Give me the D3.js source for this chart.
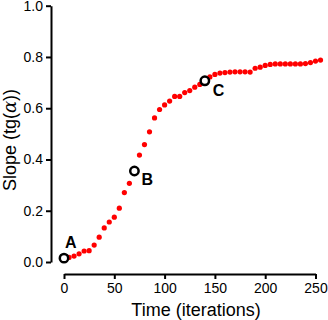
<!DOCTYPE html>
<html>
<head>
<meta charset="utf-8">
<script src="https://cdn.jsdelivr.net/npm/d3@7"></script>
<style>
  html, body { margin: 0; padding: 0; background: #fff; }
  svg { display: block; font-family: "Liberation Sans", Arial, sans-serif; }
</style>
</head>
<body>
<svg id="chart" width="328" height="320"></svg>
<script>
// ---- data ----
const iterations = [0,5,10,15,20,25,30,35,40,45,50,55,60,65,70,75,80,85,90,95,100,105,110,115,120,125,130,135,140,145,150,155,160,165,170,175,180,185,190,195,200,205,210,215,220,225,230,235,240,245,250,255];
const slope = [0.015,0.018,0.023,0.032,0.043,0.044,0.066,0.097,0.133,0.156,0.175,0.210,0.271,0.307,0.355,0.417,0.458,0.508,0.562,0.595,0.613,0.628,0.646,0.646,0.661,0.669,0.682,0.693,0.707,0.722,0.732,0.737,0.739,0.741,0.742,0.742,0.742,0.741,0.756,0.760,0.767,0.771,0.773,0.773,0.773,0.773,0.773,0.773,0.774,0.778,0.784,0.788];
const markerLabels = ["A", "B", "C"];
const markerIterations = [0, 70, 140];
const markerSlopes = [0.015, 0.355, 0.707];
const xTicks = [0, 50, 100, 150, 200, 250];
const yTicks = [0, 0.2, 0.4, 0.6, 0.8, 1.0];

// ---- drawing ----
const svg = d3.select("#chart");
const x = d3.scaleLinear().domain([0, 250]).range([64, 315.5]);
const y = d3.scaleLinear().domain([0, 1]).range([262, 5.7]);

const yAxis = d3.axisLeft(y).tickValues(yTicks).tickFormat(d3.format(".1f"))
  .tickSize(5).tickSizeOuter(0).tickPadding(3);
const xAxis = d3.axisBottom(x).tickValues(xTicks).tickFormat(d3.format("d"))
  .tickSize(5).tickSizeOuter(0).tickPadding(4);

const gy = svg.append("g").attr("transform", "translate(51,0)").call(yAxis);
const gx = svg.append("g").attr("transform", "translate(0,274)").call(xAxis);
[gy, gx].forEach(g => {
  g.selectAll("path.domain").attr("stroke", "#000").attr("stroke-width", 2);
  g.selectAll(".tick line").attr("stroke", "#000").attr("stroke-width", 2);
  g.selectAll(".tick text").attr("fill", "#000")
    .style("font-family", "'Liberation Sans', Arial, sans-serif").style("font-size", "14px");
});

// axis titles
svg.append("text")
  .attr("x", 196).attr("y", 316)
  .attr("text-anchor", "middle")
  .style("font-size", "18px").attr("fill", "#000")
  .text("Time (iterations)");

const yt = svg.append("text")
  .attr("transform", "translate(15.5,140) rotate(-90)")
  .attr("text-anchor", "middle")
  .style("font-size", "18px").attr("fill", "#000");
yt.append("tspan").text("Slope (tg(");
yt.append("tspan").style("font-style", "italic").style("font-family", "'DejaVu Serif', serif").text("α");
yt.append("tspan").text("))");

// data points
const pts = iterations.map((t, i) => ({ t, v: slope[i] }));
svg.append("g").selectAll("circle").data(pts).join("circle")
  .attr("cx", d => x(d.t)).attr("cy", d => y(d.v))
  .attr("r", 2.6).attr("fill", "#ff0000");

// markers
const marks = markerLabels.map((l, i) => ({ l, t: markerIterations[i], v: markerSlopes[i] }));
svg.append("g").selectAll("circle").data(marks).join("circle")
  .attr("cx", d => x(d.t)).attr("cy", d => y(d.v))
  .attr("r", 4.2).attr("fill", "#fff").attr("stroke", "#000").attr("stroke-width", 2.5);

const labelOffsets = [[1, -10], [7, 14], [8, 15]];
svg.append("g").selectAll("text").data(marks).join("text")
  .attr("x", (d, i) => x(d.t) + labelOffsets[i][0])
  .attr("y", (d, i) => y(d.v) + labelOffsets[i][1])
  .style("font-size", "16px").style("font-weight", "bold").attr("fill", "#000")
  .text(d => d.l);
</script>
</body>
</html>
